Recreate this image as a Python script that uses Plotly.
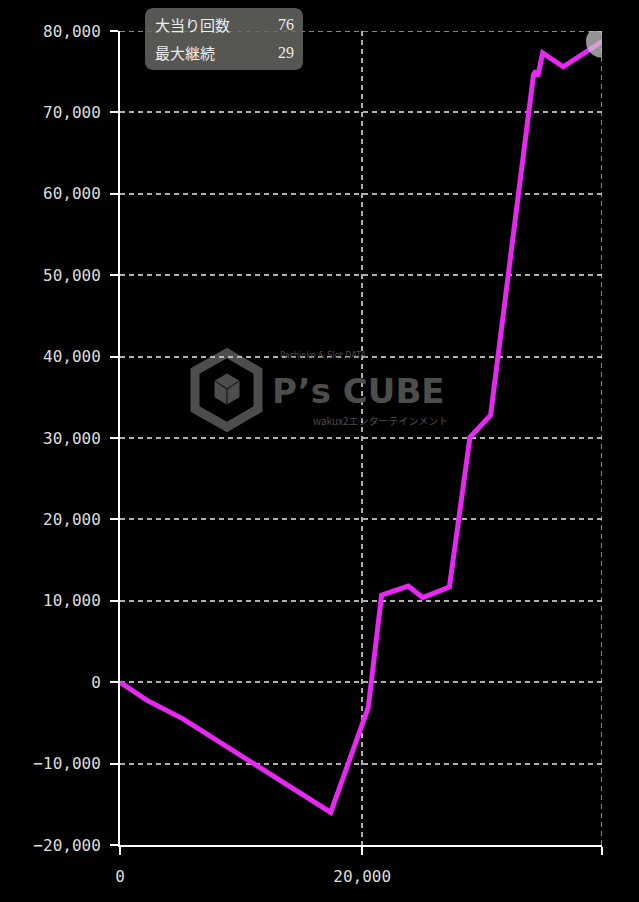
import plotly.graph_objects as go

# Data
spins = [0, 2200, 5200, 17400, 20500, 21600, 23800, 25000, 27200, 28900, 30600,
         34150, 34350, 34500, 34900, 36600, 39800]
balance = [0, -2200, -4500, -16000, -3100, 10700, 11800, 10400, 11700, 30100, 32800,
           74700, 75100, 74400, 77300, 75600, 78700]
x_tick_vals = [0, 20000, 39800]
x_tick_text = ["0", "20,000", ""]
y_tick_vals = [-20000, -10000, 0, 10000, 20000, 30000, 40000, 50000, 60000, 70000, 80000]
stat_labels = ["大当り回数", "最大継続"]
stat_values = ["76", "29"]

W, H = 639, 902
L, R, T, B = 120, 37, 31, 57
PW, PH = W - L - R, H - T - B


def px(x):
    return (x - L) / PW


def py(y):
    return (H - B - y) / PH


fig = go.Figure()
fig.add_trace(go.Scatter(
    x=spins, y=balance, mode="lines",
    line=dict(color="#e629f0", width=5),
    hoverinfo="skip", showlegend=False,
))
fig.add_trace(go.Scatter(
    x=[spins[-1]], y=[balance[-1]], mode="markers",
    marker=dict(size=32, color="rgba(205,205,205,0.72)", line=dict(width=0)),
    hoverinfo="skip", showlegend=False,
))

gridcolor = "rgba(195,195,195,0.9)"
tickfont = dict(family="DejaVu Sans Mono", size=16, color="#dddddd")
grid = dict(showgrid=True, gridcolor=gridcolor, gridwidth=1.5,
            griddash="5px,4px", zeroline=False,
            showline=True, linecolor="#ffffff", linewidth=2,
            ticks="outside", ticklen=8, tickwidth=2, tickcolor="#ffffff",
            tickfont=tickfont)

fig.update_xaxes(range=[0, 39800], tickmode="array", tickvals=x_tick_vals,
                 ticktext=x_tick_text, ticklabelstandoff=8, **grid)
fig.update_yaxes(range=[-20000, 80000], tickmode="array", tickvals=y_tick_vals,
                 tickformat=",d", ticklabelstandoff=6, **grid)

shapes = []
# edge grid lines (right and top) that Plotly omits at the range boundary
shapes.append(dict(type="line", xref="x", yref="paper", x0=x_tick_vals[-1], x1=x_tick_vals[-1],
                   y0=0, y1=1, line=dict(color=gridcolor, width=1.5, dash="5px,4px"),
                   layer="below"))
shapes.append(dict(type="line", xref="paper", yref="y", x0=0, x1=1,
                   y0=y_tick_vals[-1], y1=y_tick_vals[-1],
                   line=dict(color=gridcolor, width=1.5, dash="5px,4px"), layer="below"))
# watermark hexagon logo
wm = "#4d4d4b"
hexo = [(227, 353), (258, 371), (258, 409), (227, 427), (195, 409), (195, 371)]
path = "M " + " L ".join(f"{px(a)},{py(b)}" for a, b in hexo) + " Z"
shapes.append(dict(type="path", xref="paper", yref="paper", path=path,
                   line=dict(color=wm, width=9), fillcolor="rgba(0,0,0,0)", layer="below"))
hexi = [(227, 374), (239, 381), (239, 397), (227, 404), (215, 397), (215, 381)]
path = "M " + " L ".join(f"{px(a)},{py(b)}" for a, b in hexi) + " Z"
shapes.append(dict(type="path", xref="paper", yref="paper", path=path,
                   line=dict(color=wm, width=1), fillcolor=wm, layer="below"))
inner = [(227, 389), (239, 381), (227, 389), (215, 381), (227, 389), (227, 404)]
path = "M " + " L ".join(f"{px(a)},{py(b)}" for a, b in inner)
shapes.append(dict(type="path", xref="paper", yref="paper", path=path,
                   line=dict(color="#222222", width=1.5), layer="below"))

# stats box (rounded rectangle)
bx0, bx1, by0, by1, r = 145, 303, 8, 70, 8
k = 0.45
box = (f"M {px(bx0 + r)},{py(by0)} L {px(bx1 - r)},{py(by0)} "
       f"C {px(bx1 - r * k)},{py(by0)} {px(bx1)},{py(by0 + r * k)} {px(bx1)},{py(by0 + r)} "
       f"L {px(bx1)},{py(by1 - r)} "
       f"C {px(bx1)},{py(by1 - r * k)} {px(bx1 - r * k)},{py(by1)} {px(bx1 - r)},{py(by1)} "
       f"L {px(bx0 + r)},{py(by1)} "
       f"C {px(bx0 + r * k)},{py(by1)} {px(bx0)},{py(by1 - r * k)} {px(bx0)},{py(by1 - r)} "
       f"L {px(bx0)},{py(by0 + r)} "
       f"C {px(bx0)},{py(by0 + r * k)} {px(bx0 + r * k)},{py(by0)} {px(bx0 + r)},{py(by0)} Z")
shapes.append(dict(type="path", xref="paper", yref="paper", path=box,
                   line=dict(width=0), fillcolor="rgba(105,105,100,0.82)", layer="above"))

annotations = []
# watermark text
annotations.append(dict(x=px(323), y=py(362), xref="paper", yref="paper",
                        text="Pachinko &amp; Slot DATA", showarrow=False, yanchor="bottom",
                        font=dict(family="DejaVu Sans Condensed", size=9, color=wm)))
annotations.append(dict(x=px(358), y=py(391), xref="paper", yref="paper",
                        text="<b>P’s CUBE</b>", showarrow=False,
                        font=dict(family="DejaVu Sans", size=34, color=wm)))
annotations.append(dict(x=px(380), y=py(420), xref="paper", yref="paper",
                        text="wakux2エンターテインメント", showarrow=False,
                        font=dict(family="Noto Sans CJK JP", size=10, color=wm)))

rows_y = [25, 53]
for lab, val, yy in zip(stat_labels, stat_values, rows_y):
    annotations.append(dict(x=px(153), y=py(yy), xref="paper", yref="paper",
                            text=lab, showarrow=False, xanchor="left", yanchor="middle",
                            font=dict(family="Noto Sans CJK JP", size=15, color="#eeeeee")))
    annotations.append(dict(x=px(296), y=py(yy), xref="paper", yref="paper",
                            text=val, showarrow=False, xanchor="right", yanchor="middle",
                            font=dict(family="Liberation Serif", size=16, color="#eeeeee")))

fig.update_layout(
    width=W, height=H,
    margin=dict(l=L, r=R, t=T, b=B, pad=0),
    paper_bgcolor="#000000", plot_bgcolor="#000000",
    shapes=shapes, annotations=annotations,
    showlegend=False,
)

fig.write_html("out.html", config={"displayModeBar": False},
               post_script="document.body.style.margin='0';document.body.style.background='#000';")
